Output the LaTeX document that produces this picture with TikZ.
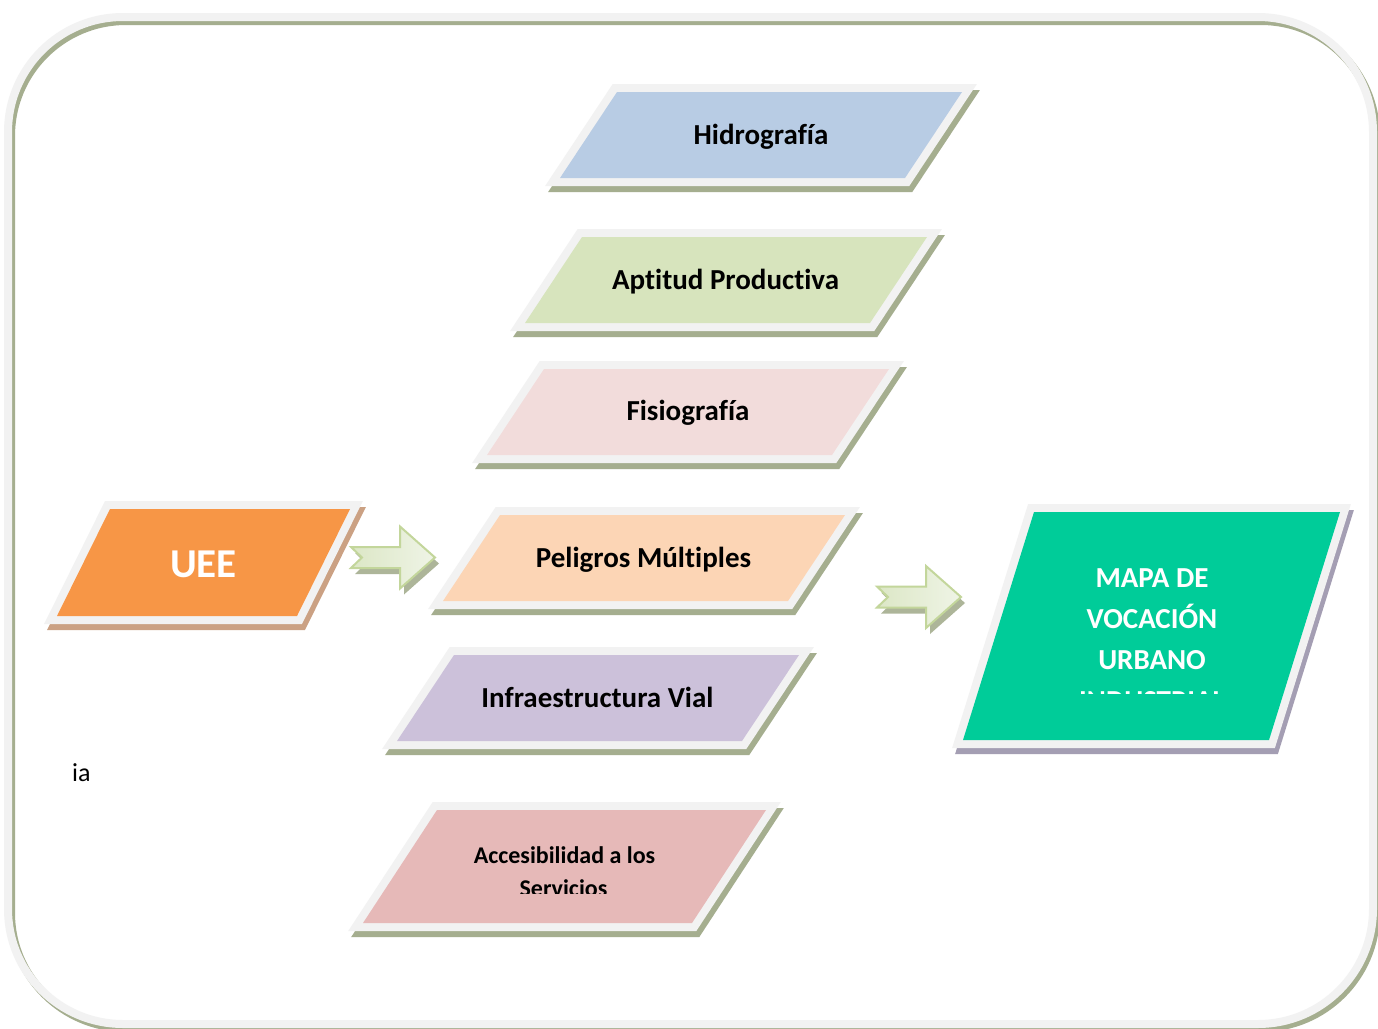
\documentclass[tikz,border=0pt]{standalone}
\usepackage{fontspec}
\setmainfont{Carlito}[Ligatures=NoCommon]
\definecolor{rim}{HTML}{F2F2F2}
\definecolor{olive}{HTML}{A5AE8F}
\definecolor{tan}{HTML}{CBA183}
\definecolor{mauve}{HTML}{A49EB3}
\definecolor{hidro}{HTML}{B8CCE4}
\definecolor{aptitud}{HTML}{D7E4BD}
\definecolor{fisio}{HTML}{F2DCDB}
\definecolor{peligro}{HTML}{FCD5B5}
\definecolor{infra}{HTML}{CCC1DA}
\definecolor{acceso}{HTML}{E6B9B8}
\definecolor{uee}{HTML}{F79646}
\definecolor{mapa}{HTML}{00CC99}
\definecolor{arrowline}{HTML}{C3D69B}
\definecolor{arrowA}{HTML}{DCE7C6}
\definecolor{arrowB}{HTML}{EFF4E6}

% parallelogram plate: fill, shadow colour, top-left x, top-left y, width, height, slant
\newcommand\plate[7]{%
  \path[fill=#2, draw=#2, line width=16pt, line join=miter, shift={(3,6)}]
    (#3,#4) -- ++(#5,0) -- ++(-#7,#6) -- ++(-#5,0) -- cycle;
  \draw[rim, line width=16pt, line join=miter]
    (#3,#4) -- ++(#5,0) -- ++(-#7,#6) -- ++(-#5,0) -- cycle;
  \fill[#1] (#3,#4) -- ++(#5,0) -- ++(-#7,#6) -- ++(-#5,0) -- cycle;
}
% block arrow: tail x, centre y
\newcommand\blockarrow[2]{%
  \path[fill=olive, opacity=0.9, shift={(4,6)}]
    (#1,#2-10.5) -- ++(49,0) -- ++(0,-20.5) -- ++(35,31) -- ++(-35,31)
    -- ++(0,-20.5) -- ++(-49,0) -- ++(11,-10.5) -- cycle;
  \path[draw=arrowline, line width=2pt, line join=miter, left color=arrowA, right color=arrowB]
    (#1,#2-10.5) -- ++(49,0) -- ++(0,-20.5) -- ++(35,31) -- ++(-35,31)
    -- ++(0,-20.5) -- ++(-49,0) -- ++(11,-10.5) -- cycle;
}

\begin{document}
\begin{tikzpicture}[x=1pt, y=-1pt,
  lbl/.style={font=\fontsize{29}{35}\selectfont\bfseries, text=black, inner sep=0pt, anchor=base},
  small/.style={font=\fontsize{24}{29}\selectfont\bfseries, text=black, inner sep=0pt, anchor=base},
  big/.style={font=\fontsize{41}{49}\selectfont\bfseries, text=white, inner sep=0pt, anchor=base},
  white lbl/.style={lbl, text=white}]
\useasboundingbox (0,0) rectangle (1378,1028);
\fill[white] (0,0) rectangle (1378,1028);

% outer rounded frame with its shadow
\draw[olive, line width=8pt, rounded corners=115pt, shift={(3,4)}] (8,17) rectangle (1373,1024);
\draw[rim, line width=8pt, rounded corners=115pt] (8,17) rectangle (1373,1024);

% input plates
\plate{hidro}{olive}{617}{92}{345}{86}{57}
\plate{aptitud}{olive}{582}{237}{345}{86}{57}
\plate{fisio}{olive}{544}{369}{345}{86}{57}
\plate{peligro}{olive}{500}{515}{345}{86}{57}
\plate{infra}{olive}{454}{655}{345}{86}{57}
\plate{acceso}{olive}{437}{810}{329}{113}{74}
\plate{uee}{tan}{110}{509}{240}{107}{53}
\plate{mapa}{mauve}{1034}{512}{306}{228}{71}

% arrows
\blockarrow{351}{557.5}
\blockarrow{877}{597}

% labels
\node[lbl] (hidrografia) at (761,144) {Hidrografía};
\node[lbl] (aptitud) at (725.5,289) {Aptitud Productiva};
\node[lbl] (fisiografia) at (688,420) {Fisiografía};
\node[lbl] (peligros) at (643.5,567) {Peligros Múltiples};
\node[lbl] (infraestructura) at (597.5,707) {Infraestructura Vial};
\node[small] (accesibilidad) at (564.5,863) {Accesibilidad a los};
\begin{scope}
  \clip (360,800) rectangle (780,893);
  \node[small] (servicios) at (563.5,896) {Servicios};
\end{scope}
\node[big] (uee) at (203.5,577) {UEE};
\node[white lbl] (mapa1) at (1152,587) {MAPA DE};
\node[white lbl] (mapa2) at (1152,628) {VOCACIÓN};
\node[white lbl] (mapa3) at (1152,669) {URBANO};
\begin{scope}
  \clip (1040,650) rectangle (1260,693);
  \node[white lbl] (mapa4) at (1152,710) {INDUSTRIAL};
\end{scope}
\node[font=\fontsize{26}{31}\selectfont, inner sep=0pt, anchor=base west] (ia) at (72,781) {ia};
\end{tikzpicture}
\end{document}
